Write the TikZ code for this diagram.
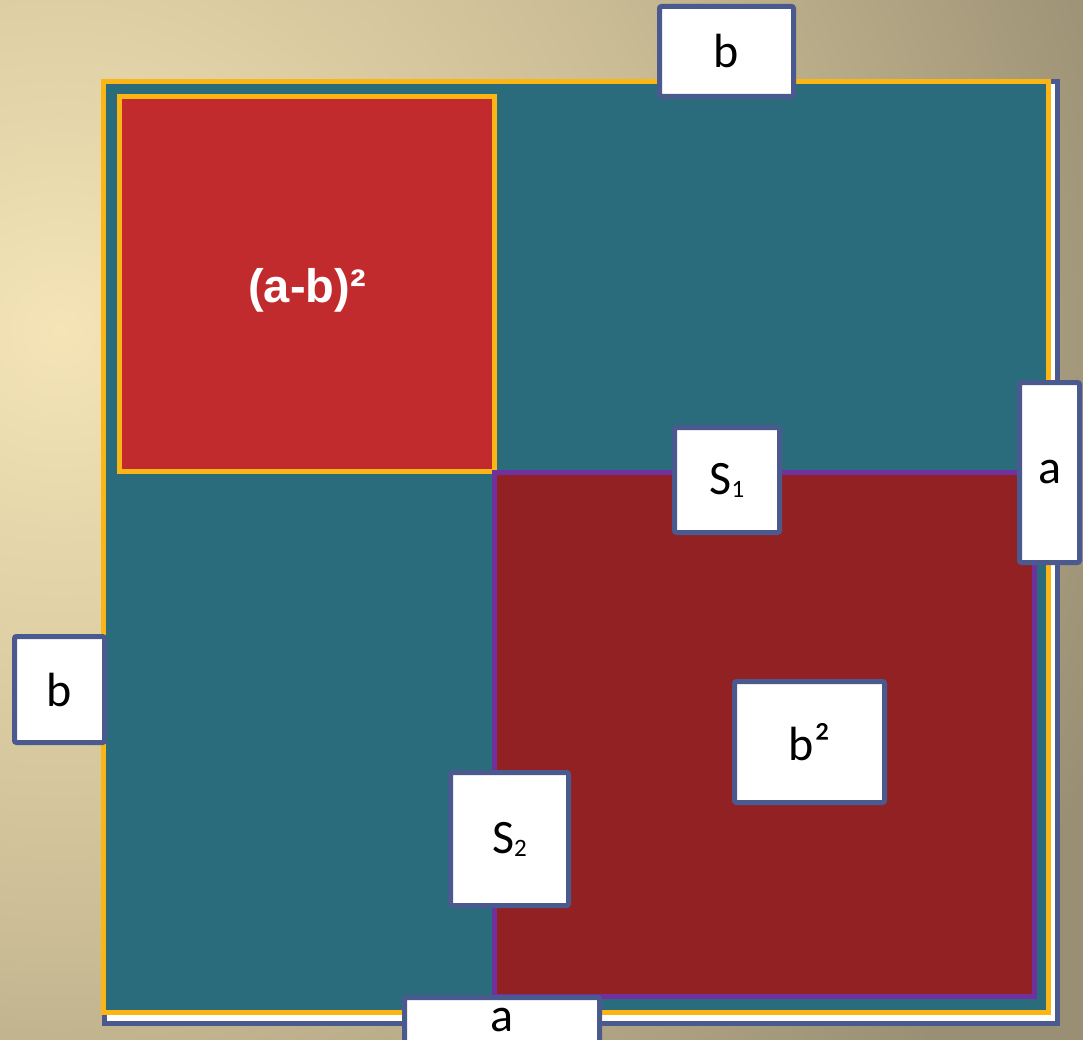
\documentclass[tikz,border=0pt]{standalone}
\usepackage{fontspec}
\setmainfont{Carlito}
\newfontfamily\headfont{Liberation Sans}
\usepackage{tikz}
\definecolor{bglight}{HTML}{F4E4B6}
\definecolor{bgmid}{HTML}{C9BB94}
\definecolor{bgdark}{HTML}{9A8F74}
\definecolor{frame}{HTML}{4A5A8F}
\definecolor{gold}{HTML}{FBB514}
\definecolor{sqteal}{HTML}{2B6C7C}
\definecolor{sqred}{HTML}{C22B2E}
\definecolor{sqdarkred}{HTML}{922123}
\definecolor{sqpurple}{HTML}{7030A0}
\pgfdeclareradialshading{backglow}{\pgfpointorigin}{color(0bp)=(bglight); color(14bp)=(bgmid); color(25bp)=(bgdark); color(50bp)=(bgdark)}
\newcommand\subidx[1]{\raisebox{-3pt}{\fontsize{25}{25}\selectfont #1}}

\begin{document}
\begin{tikzpicture}[x=1pt,y=-1pt,
    lbl/.style={draw=frame,fill=white,line width=5pt,rounded corners=2pt,
      inner sep=0pt,font=\fontsize{48}{56}\selectfont}]
    \useasboundingbox (0,0) rectangle (1083,1040);
    \begin{scope}
      \clip (0,0) rectangle (1083,1040);
      \fill[bgdark] (0,0) rectangle (1083,1040);
      \shade[shading=backglow] (60,330) circle[radius=1120];
    \end{scope}

    \draw[frame,line width=5pt,fill=white] (104,82) rectangle (1057,1023);
    \draw[gold,line width=5pt,fill=sqteal] (103.5,81.5) rectangle (1048.5,1012);
    \draw[gold,line width=5pt,fill=sqred] (119,97) rectangle (494.5,471);
    \draw[sqpurple,line width=5pt,fill=sqdarkred] (494.5,472) rectangle (1034.5,996.5);

    \node[text=white,font=\headfont\bfseries\fontsize{47}{56}\selectfont] (diff) at (307,290) {(a-b)²};

    \path
    (726.5,51.5) node[lbl,minimum width=134,minimum height=90] (topb) {b}
    (1049.5,472.5) node[lbl,minimum width=60,minimum height=180] (righta) {a}
    (727,480) node[lbl,minimum width=105,minimum height=105] (sone) {S\subidx{1}}
    (59.5,689.5) node[lbl,minimum width=90,minimum height=106] (leftb) {b}
    (809.5,742) node[lbl,minimum width=150,minimum height=121] (bsq) {b²}
    (509.5,839) node[lbl,minimum width=118,minimum height=133] (stwo) {S\subidx{2}}
    (502,1020.5) node[lbl,minimum width=195,minimum height=46] (bota) {a}
    ;
  \end{tikzpicture}
\end{document}
